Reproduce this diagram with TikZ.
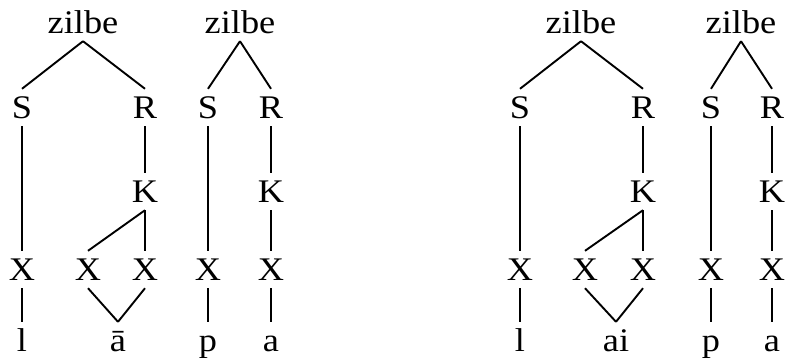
\documentclass[tikz,border=0pt]{standalone}
\usepackage{fontspec}
\setmainfont{Liberation Serif}[FakeStretch=1.1]
\begin{document}
\begin{tikzpicture}[x=1pt,y=-1pt,
  lab/.style={inner sep=0pt,text height=29pt,text depth=8pt,anchor=base,font=\fontsize{33}{33}\selectfont},
  br/.style={line width=1.9pt}]
\useasboundingbox (0,0) rectangle (786,357);
% ---- group A
\node[lab] (zA) at (83,33) {zilbe};
\node[lab] (SA) at (22,118) {S};
\node[lab] (RA) at (145,118) {R};
\node[lab] (KA) at (145,202) {K};
\node[lab] (XA1) at (22,280) {X};
\node[lab] (XA2) at (88,280) {X};
\node[lab] (XA3) at (145,280) {X};
\node[lab] (lA) at (22,351) {l};
\node[lab] (vA) at (118,351) {ā};
% ---- group B
\node[lab] (zB) at (240,33) {zilbe};
\node[lab] (SB) at (208,118) {S};
\node[lab] (RB) at (271,118) {R};
\node[lab] (KB) at (271,202) {K};
\node[lab] (XB1) at (208,280) {X};
\node[lab] (XB2) at (271,280) {X};
\node[lab] (pB) at (208,351) {p};
\node[lab] (aB) at (271,351) {a};
% ---- group C
\node[lab] (zC) at (581,33) {zilbe};
\node[lab] (SC) at (520,118) {S};
\node[lab] (RC) at (643,118) {R};
\node[lab] (KC) at (643,202) {K};
\node[lab] (XC1) at (520,280) {X};
\node[lab] (XC2) at (585,280) {X};
\node[lab] (XC3) at (643,280) {X};
\node[lab] (lC) at (520,351) {l};
\node[lab] (vC) at (616,351) {ai};
% ---- group D
\node[lab] (zD) at (741,33) {zilbe};
\node[lab] (SD) at (711,118) {S};
\node[lab] (RD) at (772,118) {R};
\node[lab] (KD) at (772,202) {K};
\node[lab] (XD1) at (711,280) {X};
\node[lab] (XD2) at (772,280) {X};
\node[lab] (pD) at (711,351) {p};
\node[lab] (aD) at (772,351) {a};
% ---- branches
\foreach \g in {A,C}{
  \draw[br] (z\g.south) -- (S\g.north);
  \draw[br] (z\g.south) -- (R\g.north);
  \draw[br] (S\g.south) -- (X\g1.north);
  \draw[br] (R\g.south) -- (K\g.north);
  \draw[br] (K\g.south) -- (X\g2.north);
  \draw[br] (K\g.south) -- (X\g3.north);
  \draw[br] (X\g1.south) -- (l\g.north);
  \draw[br] (X\g2.south) -- (v\g.north);
  \draw[br] (X\g3.south) -- (v\g.north);
}
\foreach \g in {B,D}{
  \draw[br] (z\g.south) -- (S\g.north);
  \draw[br] (z\g.south) -- (R\g.north);
  \draw[br] (S\g.south) -- (X\g1.north);
  \draw[br] (R\g.south) -- (K\g.north);
  \draw[br] (K\g.south) -- (X\g2.north);
  \draw[br] (X\g1.south) -- (p\g.north);
  \draw[br] (X\g2.south) -- (a\g.north);
}
\end{tikzpicture}
\end{document}
